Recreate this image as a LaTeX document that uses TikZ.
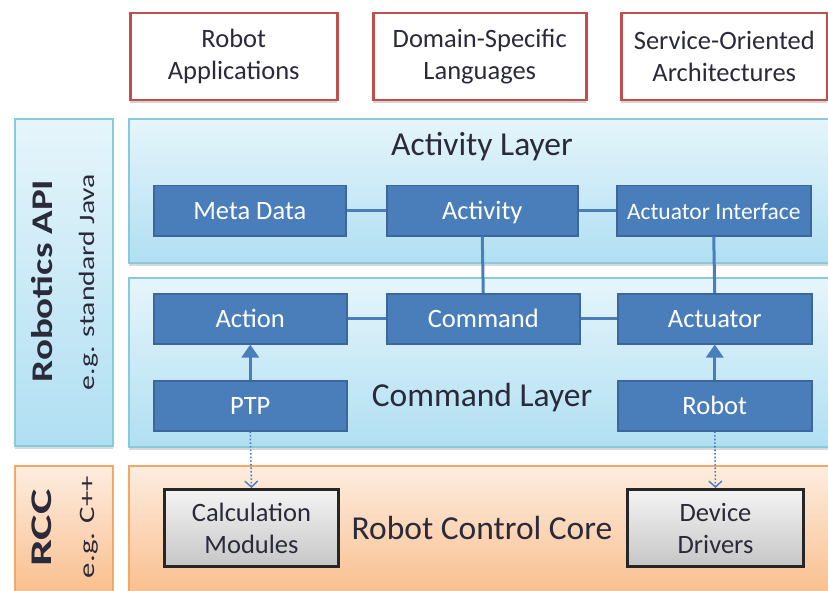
\documentclass[tikz,border=0pt]{standalone}
\usepackage{fontspec}
\setmainfont{Carlito}
\usetikzlibrary{arrows.meta,shadows}
\definecolor{appred}{HTML}{C0504D}
\definecolor{txtdark}{HTML}{2A2A3A}
\definecolor{panelTop}{HTML}{E6F5FB}
\definecolor{panelBot}{HTML}{B0DFF2}
\definecolor{panelborder}{HTML}{86CADD}
\definecolor{rccTop}{HTML}{FDEDE0}
\definecolor{rccBot}{HTML}{F9BE8C}
\definecolor{rccborder}{HTML}{F4A866}
\definecolor{boxblue}{HTML}{4A7EBB}
\definecolor{blueborder}{HTML}{3B679C}
\definecolor{greyTop}{HTML}{F4F4F4}
\definecolor{greyBot}{HTML}{C6C6C6}
\definecolor{greyborder}{HTML}{262626}
\begin{document}
\begin{tikzpicture}[x=1pt,y=-1pt,
  appbox/.style={draw=appred, line width=2.5pt, fill=white, anchor=north west, inner sep=0pt,
    align=center, text=txtdark, font=\fontsize{26.5}{32}\selectfont,
    drop shadow={shadow xshift=0pt, shadow yshift=-3pt, opacity=0.35}},
  panel/.style={draw=panelborder, line width=2pt, top color=panelTop, bottom color=panelBot,
    anchor=north west, inner sep=0pt,
    drop shadow={shadow xshift=0pt, shadow yshift=-3pt, opacity=0.3}},
  rccpanel/.style={draw=rccborder, line width=2pt, top color=rccTop, bottom color=rccBot,
    anchor=north west, inner sep=0pt},
  bluebox/.style={draw=blueborder, line width=1.5pt, fill=boxblue, text=white, anchor=north west,
    inner sep=0pt, text height=20pt, text depth=2pt, font=\fontsize{26.5}{30}\selectfont},
  greybox/.style={draw=greyborder, line width=3pt, top color=greyTop, bottom color=greyBot,
    anchor=north west, inner sep=0pt, align=center, text=txtdark, font=\fontsize{26.5}{32}\selectfont},
  layertitle/.style={text=txtdark, font=\fontsize{33.5}{38}\selectfont},
  sidetitle/.style={text=txtdark, rotate=90, font=\bfseries\fontsize{30}{32}\selectfont},
  sidesub/.style={text=txtdark, rotate=90, font=\fontsize{22}{24}\selectfont},
  link/.style={draw=boxblue, line width=3pt},
  uparrow/.style={link, -{Triangle[width=17pt,length=13pt]}},
  dotarrow/.style={draw=boxblue, line width=1.6pt, dotted, -{Straight Barb[length=6pt,width=13pt,line width=1.4pt]}}
]
\useasboundingbox (0,0) rectangle (828,591);

% top application boxes
\node[appbox, minimum width=207pt, minimum height=87pt] (app) at (129,12) {Robot\\Applications};
\node[appbox, minimum width=213pt, minimum height=87pt] (dsl) at (372,12) {Domain-Specific\\Languages};
\node[appbox, minimum width=206pt, minimum height=87pt] (soa) at (620,12) {Service-Oriented\\Architectures};

% side boxes
\node[panel, minimum width=98pt, minimum height=327pt] (api) at (14,118) {};
\node[rccpanel, minimum width=98pt, minimum height=130pt] (rcc) at (14,465) {};
\node[sidetitle] (apititle) at (42,281) {\scalebox{1.3}[1]{Robotics API}};
\node[sidesub] (apisub) at (89,282) {\scalebox{1.35}[1]{e.g. standard Java}};
\node[sidetitle] (rcctitle) at (42,528) {\scalebox{1.6}[1]{RCC}};
\node[sidesub] (rccsub) at (89,527) {\scalebox{1.4}[1]{e.g. C++}};

% layer panels
\node[panel, minimum width=700pt, minimum height=144pt] (actlayer) at (128,118) {};
\node[panel, minimum width=700pt, minimum height=169pt] (cmdlayer) at (128,277) {};
\node[rccpanel, minimum width=700pt, minimum height=130pt] (core) at (128,465) {};

\node[layertitle] (actlabel) at (482,147) {Activity Layer};
\node[layertitle] (cmdlabel) at (482,398) {Command Layer};
\node[layertitle] (corelabel) at (482,528) {Robot Control Core};

% activity layer boxes
\node[bluebox, minimum width=192pt, minimum height=50pt] (meta) at (153,185) {Meta Data};
\node[bluebox, minimum width=191pt, minimum height=50pt] (activity) at (386,185) {Activity};
\node[bluebox, minimum width=194pt, minimum height=50pt, font=\fontsize{23.5}{26}\selectfont] (actif) at (616,185) {Actuator Interface};

% command layer boxes
\node[bluebox, minimum width=193pt, minimum height=50pt] (action) at (153,293) {Action};
\node[bluebox, minimum width=193pt, minimum height=50pt] (command) at (386,293) {Command};
\node[bluebox, minimum width=194pt, minimum height=50pt] (actuator) at (617,293) {Actuator};
\node[bluebox, minimum width=193pt, minimum height=50pt] (ptp) at (153,380) {PTP};
\node[bluebox, minimum width=194pt, minimum height=50pt] (robot) at (617,380) {Robot};

% RCC boxes
\node[greybox, minimum width=174pt, minimum height=77pt] (calc) at (163,488) {Calculation\\Modules};
\node[greybox, minimum width=176pt, minimum height=77pt] (dev) at (626,488) {Device\\Drivers};

% connectors
\draw[link] (meta.east) -- (activity.west);
\draw[link] (activity.east) -- (actif.west);
\draw[link] (activity.south) -- (command.north);
\draw[link] (actif.south) -- (actuator.north);
\draw[link] (action.east) -- (command.west);
\draw[link] (command.east) -- (actuator.west);
\draw[uparrow] (ptp.north) -- (action.south);
\draw[uparrow] (robot.north) -- (actuator.south);
\draw[dotarrow] (ptp.south) -- (calc.north);
\draw[dotarrow] (robot.south) -- (dev.north);
\end{tikzpicture}
\end{document}
